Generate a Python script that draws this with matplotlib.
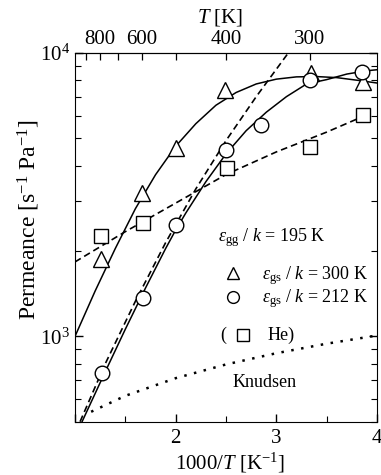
import numpy as np
import matplotlib
matplotlib.use("Agg")
import matplotlib.pyplot as plt
from matplotlib.ticker import FixedLocator, NullFormatter

plt.rcParams['font.family'] = ['Liberation Serif', 'DejaVu Serif']
plt.rcParams['mathtext.fontset'] = 'custom'
plt.rcParams['mathtext.rm'] = 'Liberation Serif'
plt.rcParams['mathtext.it'] = 'Liberation Serif:italic'

# measured points
tri_x = [1.26, 1.67, 2.00, 2.49, 3.34, 3.86]
tri_y = [1870, 3190, 4600, 7380, 8460, 7910]
circ_x = [1.27, 1.68, 2.00, 2.50, 2.85, 3.33, 3.85]
circ_y = [745, 1370, 2470, 4540, 5560, 8010, 8570]
sq_x = [1.26, 1.68, 2.51, 3.33, 3.86]
sq_y = [2265, 2500, 3910, 4640, 6030]

# model curves
fit300_x = [1.0, 1.2, 1.4, 1.6, 1.8, 2.0, 2.2, 2.4, 2.6, 2.8, 3.0, 3.2, 3.4, 3.6, 3.8, 4.0]
fit300_y = [1000, 1445, 2040, 2820, 3715, 4680, 5620, 6530, 7240, 7760, 8070, 8220, 8240, 8170, 8000, 7820]
fit212_x = [1.07, 1.3, 1.5, 1.7, 1.9, 2.0, 2.1, 2.3, 2.5, 2.7, 2.9, 3.1, 3.3, 3.5, 3.7, 3.9, 4.0]
fit212_y = [500, 750, 1060, 1480, 2040, 2370, 2720, 3510, 4400, 5310, 6170, 7000, 7760, 8040, 8410, 8640, 8710]
dash_x = [1.05, 1.3, 1.6, 1.9, 2.2, 2.5, 2.8, 3.12]
dash_y = [500, 800, 1330, 2140, 3310, 4900, 7000, 10000]
he_x = [1.0, 1.5, 2.0, 2.5, 3.0, 3.5, 3.86]
he_y = [1830, 2340, 2950, 3720, 4470, 5250, 5960]
knud_x = [1.16, 1.5, 2.0, 2.5, 3.0, 3.5, 4.0]
knud_y = [542, 617, 712, 796, 872, 942, 1007]

top_T = [900, 800, 700, 600, 500, 400, 300]
top_labels = ['', '800', '', '600', '', '400', '300']

fig = plt.figure(figsize=(3.81, 4.75), dpi=100)
ax = fig.add_axes([0.1969, 0.1122, 0.7927, 0.7768])

ax.plot(fit300_x, fit300_y, color='black', lw=1.1, zorder=2)
ax.plot(fit212_x, fit212_y, color='black', lw=1.1, zorder=2)
ax.plot(dash_x, dash_y, color='black', lw=1.2, dashes=(4, 2.4), zorder=2)
ax.plot(he_x, he_y, color='black', lw=1.2, dashes=(4, 2.4), zorder=2)
ax.plot(knud_x, knud_y, color='black', lw=1.8, dashes=(1, 3), zorder=2)

mk = dict(ls='none', mfc='white', mec='black', mew=1.0, zorder=3, clip_on=False)
ax.plot(tri_x, tri_y, marker='^', ms=11, **mk)
ax.plot(circ_x, circ_y, marker='o', ms=10.5, **mk)
ax.plot(sq_x, sq_y, marker='s', ms=9.5, **mk)

ax.set_yscale('log')
ax.set_xlim(1, 4)
ax.set_ylim(500, 10000)

ax.set_xticks([1, 2, 3, 4])
ax.set_xticklabels(['', '2', '3', '4'])
ax.xaxis.set_minor_locator(FixedLocator([1.5, 2.5, 3.5]))
ax.set_yticks([1000, 10000])
ax.set_yticklabels(['$10^3$', '$10^4$'])
ax.yaxis.set_minor_formatter(NullFormatter())
ax.tick_params(which='both', direction='in', right=True, labelsize=15)
ax.tick_params(which='major', length=6, width=1)
ax.tick_params(which='minor', length=4, width=0.8)
ax.tick_params(axis='x', pad=5)

sec = ax.secondary_xaxis('top', functions=(lambda v: 1000 / v, lambda v: 1000 / v))
sec.set_xticks(top_T)
sec.set_xticklabels(top_labels)
sec.tick_params(direction='in', length=5, width=0.9, labelsize=15, pad=3)

ax.set_xlabel('1000/$T$ [K$^{-1}$]', fontsize=15)
ax.xaxis.set_label_coords(0.513, -0.079)
ax.set_ylabel('Permeance [s$^{-1}$ Pa$^{-1}$]', fontsize=17)
ax.yaxis.set_label_coords(-0.109, 0.547)
fig.text(0.578, 0.964, '$T$ [K]', fontsize=15, ha='center', va='center')

fs = 13
ax.text(0.474, 0.500, r'$\varepsilon_{\rm gg}$ / $k$ = 195 K', transform=ax.transAxes, fontsize=fs, va='center')
ax.plot([0.523], [0.403], marker='^', ms=9, mfc='white', mec='black', transform=ax.transAxes)
ax.text(0.619, 0.397, r'$\varepsilon_{\rm gs}$ / $k$ = 300 K', transform=ax.transAxes, fontsize=fs, va='center')
ax.plot([0.523], [0.338], marker='o', ms=8.5, mfc='white', mec='black', transform=ax.transAxes)
ax.text(0.619, 0.333, r'$\varepsilon_{\rm gs}$ / $k$ = 212 K', transform=ax.transAxes, fontsize=fs, va='center')
ax.text(0.480, 0.235, '(', transform=ax.transAxes, fontsize=fs, va='center')
ax.plot([0.556], [0.235], marker='s', ms=8, mfc='white', mec='black', transform=ax.transAxes)
ax.text(0.639, 0.235, 'He)', transform=ax.transAxes, fontsize=fs, va='center')
ax.text(0.523, 0.105, 'Knudsen', transform=ax.transAxes, fontsize=fs, va='center')

fig.savefig('out.png', dpi=100)
